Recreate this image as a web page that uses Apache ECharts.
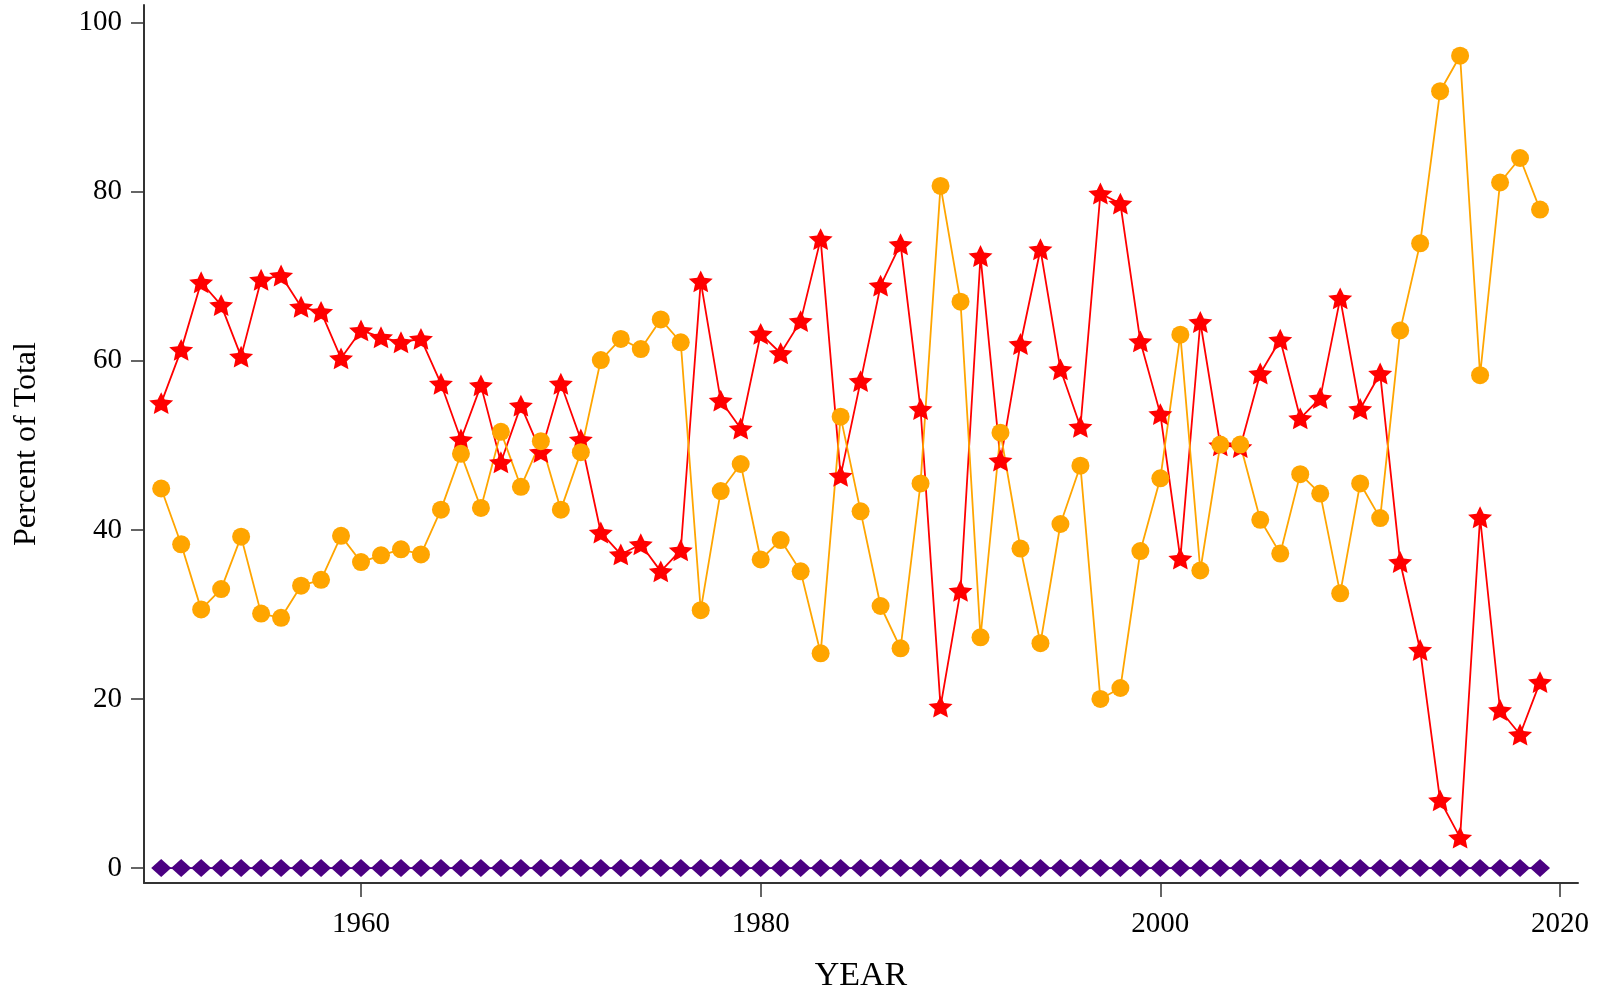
<!DOCTYPE html>
<html>
<head>
<meta charset="utf-8">
<script src="https://cdn.jsdelivr.net/npm/echarts@6/dist/echarts.min.js"></script>
<style>
  html, body { margin: 0; padding: 0; background: #fff; }
  #chart { width: 1604px; height: 993px; }
</style>
</head>
<body>
<div id="chart"></div>
<script>
// Years covered by the series
const years = [];
for (let y = 1950; y <= 2019; y++) years.push(y);

// Share (percent of total) for each group, 1950–2019
const redShare = [
  55.0, 61.3, 69.3, 66.6, 60.5, 69.6, 70.1, 66.4, 65.8, 60.3,
  63.6, 62.8, 62.2, 62.6, 57.3, 50.7, 57.1, 48.0, 54.7, 49.2,
  57.3, 50.7, 39.7, 37.1, 38.3, 35.1, 37.6, 69.4, 55.3, 52.0,
  63.2, 60.9, 64.7, 74.4, 46.4, 57.6, 68.9, 73.8, 54.3, 19.1,
  32.8, 72.4, 48.2, 62.0, 73.2, 59.0, 52.2, 79.8, 78.6, 62.3,
  53.7, 36.6, 64.6, 50.0, 49.8, 58.5, 62.5, 53.2, 55.6, 67.4,
  54.3, 58.5, 36.2, 25.8, 8.0, 3.6, 41.5, 18.7, 15.8, 22.0
];
const orangeShare = [
  44.9, 38.3, 30.6, 33.0, 39.2, 30.1, 29.6, 33.4, 34.1, 39.3,
  36.2, 37.0, 37.7, 37.1, 42.4, 49.0, 42.6, 51.6, 45.1, 50.5,
  42.4, 49.2, 60.1, 62.6, 61.4, 64.9, 62.2, 30.5, 44.6, 47.8,
  36.5, 38.8, 35.1, 25.4, 53.4, 42.2, 31.0, 26.0, 45.5, 80.7,
  67.0, 27.3, 51.5, 37.8, 26.6, 40.7, 47.6, 20.0, 21.3, 37.5,
  46.1, 63.1, 35.2, 50.1, 50.1, 41.2, 37.2, 46.6, 44.3, 32.5,
  45.5, 41.4, 63.6, 73.9, 91.9, 96.1, 58.3, 81.1, 84.0, 77.9
];
const purpleShare = years.map(() => 0);

// Tick labels
const yTicks = [0, 20, 40, 60, 80, 100];
const xTicks = [1960, 1980, 2000, 2020];

// Five-pointed star marker
function starPath() {
  const pts = [];
  for (let i = 0; i < 10; i++) {
    const r = i % 2 === 0 ? 50 : 24;
    const a = -Math.PI / 2 + i * Math.PI / 5;
    pts.push((50 + r * Math.cos(a)).toFixed(2) + ',' + (50 + r * Math.sin(a)).toFixed(2));
  }
  return 'path://M' + pts.join('L') + 'Z';
}

const pairs = vals => years.map((y, i) => [y, vals[i]]);
const serif = 'Liberation Serif';
const axisColor = '#333';

const chart = echarts.init(document.getElementById('chart'), null, { renderer: 'canvas' });
chart.setOption({
  animation: false,
  backgroundColor: '#fff',
  grid: { left: 144, right: 26, top: 5, bottom: 110, containLabel: false, outerBoundsMode: 'none' },
  xAxis: {
    type: 'value',
    min: 1949.14,
    max: 2020.9,
    name: 'YEAR',
    nameLocation: 'middle',
    nameGap: 76,
    nameTextStyle: { fontFamily: serif, fontSize: 34, color: '#000' },
    axisLine: { onZero: false, lineStyle: { color: axisColor, width: 2 } },
    axisTick: { show: true, length: 14, customValues: xTicks, lineStyle: { color: axisColor, width: 1.5 } },
    axisLabel: {
      customValues: xTicks, margin: 27, fontFamily: serif, fontSize: 29, color: '#000',
      formatter: v => String(v)
    },
    splitLine: { show: false }
  },
  yAxis: {
    type: 'value',
    min: -1.77,
    max: 102.1,
    name: 'Percent of Total',
    nameLocation: 'middle',
    nameGap: 101,
    nameRotate: 90,
    nameTextStyle: { fontFamily: serif, fontSize: 32, color: '#000' },
    axisLine: { onZero: false, lineStyle: { color: axisColor, width: 2 } },
    axisTick: { show: true, length: 13, customValues: yTicks, lineStyle: { color: axisColor, width: 1.5 } },
    axisLabel: {
      customValues: yTicks, margin: 22, fontFamily: serif, fontSize: 29, color: '#000',
      formatter: v => String(v)
    },
    splitLine: { show: false }
  },
  series: [
    {
      name: 'red',
      type: 'line',
      data: pairs(redShare),
      symbol: starPath(),
      symbolSize: [24, 23],
      symbolKeepAspect: true,
      itemStyle: { color: '#ff0000' },
      lineStyle: { color: '#ff0000', width: 1.8 }
    },
    {
      name: 'orange',
      type: 'line',
      data: pairs(orangeShare),
      symbol: 'circle',
      symbolSize: 18,
      itemStyle: { color: '#ffa500' },
      lineStyle: { color: '#ffa500', width: 1.8 }
    },
    {
      name: 'purple',
      type: 'line',
      data: pairs(purpleShare),
      symbol: 'diamond',
      symbolSize: [20, 18],
      itemStyle: { color: '#4b0082' },
      lineStyle: { color: '#4b0082', width: 1.8 }
    }
  ]
});
</script>
</body>
</html>
